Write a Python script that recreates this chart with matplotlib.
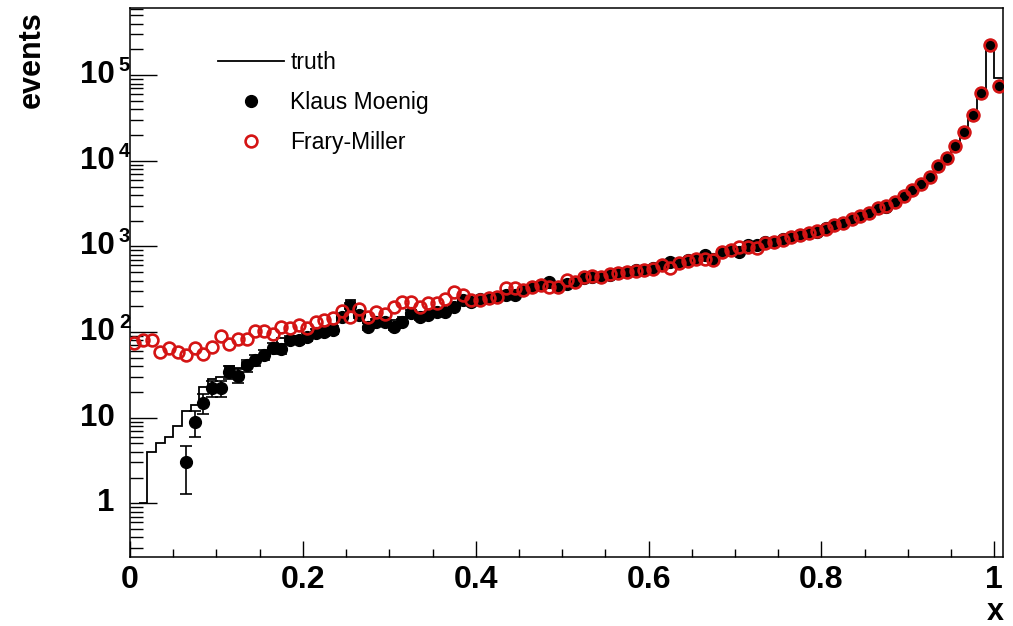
import numpy as np
import matplotlib
matplotlib.use("Agg")
import matplotlib.pyplot as plt
from matplotlib.lines import Line2D
from matplotlib.ticker import FixedLocator, LogLocator, MultipleLocator, NullFormatter

plt.rcParams['font.family'] = ['Liberation Sans', 'DejaVu Sans']

# binning: 101 bins of width 0.01 starting at x = 0
bin_width = 0.01
n_bins = 101

# truth histogram, bins 1..100 (bin 0 is empty)
truth = [
    1, 4, 5, 6, 8, 12, 14, 23, 28, 30,
    40, 38, 45, 50, 57, 62, 85, 82, 88, 95,
    100, 106, 112, 160, 237, 165, 128, 138, 142, 140,
    150, 165, 160, 165, 178, 185, 200, 225, 230, 242,
    250, 262, 275, 285, 310, 334, 355, 380, 345, 365,
    380, 425, 444, 450, 468, 488, 508, 528, 535, 556,
    605, 650, 640, 690, 710, 790, 720, 870, 910, 890,
    1040, 1045, 1130, 1140, 1220, 1300, 1362, 1427, 1490, 1633,
    1783, 1898, 2078, 2271, 2442, 2793, 2920, 3337, 3890, 4570,
    5370, 6540, 8720, 10900, 14900, 21900, 34400, 62600, 226000, 92000,
]
truth_first_bin = 1

# Klaus Moenig unfolding, bins 6..100
moenig = [
    3, 9, 15, 22, 22, 34, 31, 41, 47, 54,
    66, 64, 81, 81, 88, 98, 101, 106, 150, 202,
    158, 116, 132, 132, 116, 132, 166, 151, 158, 173,
    173, 195, 237, 227, 242, 248, 260, 271, 271, 310,
    334, 355, 388, 334, 360, 380, 425, 444, 444, 464,
    486, 508, 531, 531, 556, 608, 665, 636, 695, 708,
    794, 720, 873, 914, 873, 1042, 1042, 1137, 1137, 1220,
    1300, 1362, 1427, 1490, 1633, 1783, 1898, 2078, 2271, 2442,
    2793, 2920, 3337, 3890, 4570, 5370, 6540, 8720, 10900, 14900,
    21900, 34400, 62600, 226000, 75000,
]
moenig_first_bin = 6

# Frary-Miller unfolding, bins 0..100
frary = [
    74, 81, 81, 59, 65, 59, 54, 66, 55, 67,
    91, 73, 83, 83, 104, 104, 95, 116, 111, 121,
    111, 132, 138, 145, 178, 151, 185, 151, 173, 163,
    195, 227, 227, 195, 217, 217, 242, 296, 271, 237,
    237, 248, 260, 325, 325, 310, 334, 355, 334, 334,
    403, 382, 444, 450, 438, 473, 486, 508, 520, 531,
    540, 608, 556, 636, 680, 708, 708, 695, 873, 914,
    995, 995, 952, 1089, 1137, 1191, 1300, 1370, 1420, 1500,
    1620, 1790, 1890, 2090, 2260, 2450, 2780, 2930, 3320, 3900,
    4560, 5380, 6520, 8700, 10900, 14800, 22000, 34300, 62800, 225000,
    75500,
]

red = '#d41414'

fig = plt.figure(figsize=(10.13, 6.26), dpi=100)
ax = fig.add_axes([130 / 1013, 1 - 557 / 626, 873 / 1013, 549 / 626])

# truth as a step outline
edges = truth_first_bin * bin_width + bin_width * np.arange(len(truth) + 1)
ax.stairs(truth, edges, baseline=None, color='black', lw=1.3, zorder=2)

# Klaus Moenig points with sqrt(N) errors
km = np.array(moenig, dtype=float)
km_x = (moenig_first_bin + np.arange(len(km)) + 0.5) * bin_width
ax.errorbar(km_x, km, yerr=np.sqrt(km), fmt='o', color='black', ms=8.5,
            elinewidth=1.2, capsize=4, capthick=1.2, zorder=3)

# Frary-Miller points
fm = np.array(frary, dtype=float)
fm_x = (np.arange(len(fm)) + 0.5) * bin_width
ax.plot(fm_x, fm, 'o', mfc='none', mec=red, mew=1.9, ms=8.5, zorder=4)

ax.set_yscale('log')
ax.set_xlim(0, n_bins * bin_width)
ax.set_ylim(0.236, 6.1e5)

# ticks inside, only on bottom and left
ax.xaxis.set_major_locator(MultipleLocator(0.2))
ax.xaxis.set_minor_locator(MultipleLocator(0.05))
ax.yaxis.set_major_locator(FixedLocator([1, 10, 1e2, 1e3, 1e4, 1e5]))
ax.yaxis.set_minor_locator(LogLocator(base=10, subs=np.arange(2, 10), numticks=20))
ax.yaxis.set_major_formatter(NullFormatter())
ax.yaxis.set_minor_formatter(NullFormatter())
ax.tick_params(axis='x', which='major', direction='in', length=11.5, width=1.0,
               labelsize=23, pad=6, top=False)
ax.tick_params(axis='x', which='minor', direction='in', length=5.8, width=1.0, top=False)
ax.tick_params(axis='y', which='major', direction='in', length=19.5, width=1.0, right=False)
ax.tick_params(axis='y', which='minor', direction='in', length=9.5, width=1.0, right=False)
ax.set_xticks([0, 0.2, 0.4, 0.6, 0.8, 1.0])
ax.set_xticklabels(['0', '0.2', '0.4', '0.6', '0.8', '1'], fontweight='bold')

# y labels written as base plus raised exponent
for exp in range(0, 6):
    val = 10.0 ** exp
    base = '1' if exp == 0 else '10'
    ax.annotate(base, xy=(0, val), xycoords=('axes fraction', 'data'),
                xytext=(-11, 0), textcoords='offset points',
                ha='right', va='center', fontsize=22.5, fontweight='bold')
    if exp >= 2:
        ax.annotate(str(exp), xy=(0, val), xycoords=('axes fraction', 'data'),
                    xytext=(-8, 7), textcoords='offset points',
                    ha='left', va='center', fontsize=14.5, fontweight='bold')

for sp in ax.spines.values():
    sp.set_linewidth(1.1)

fig.text(32 / 1013, 1 - 11 / 626, 'events', rotation=90, ha='center', va='top',
         fontsize=22, fontweight='bold')
fig.text(995 / 1013, 1 - 612 / 626, 'x', ha='center', va='center',
         fontsize=22, fontweight='bold')

handles = [
    Line2D([], [], color='black', lw=1.3),
    Line2D([], [], marker='o', ls='none', color='black', ms=8.5),
    Line2D([], [], marker='o', ls='none', mfc='none', mec=red, mew=1.9, ms=8.5),
]
ax.legend(handles, ['truth', 'Klaus Moenig', 'Frary-Miller'], loc='upper left',
          bbox_to_anchor=(218 / 1013, 1 - 51 / 626), bbox_transform=fig.transFigure,
          frameon=False, fontsize=16.5, handlelength=2.9, handletextpad=0.25,
          labelspacing=0.75, borderpad=0, borderaxespad=0)

fig.savefig('out.png', dpi=100)
